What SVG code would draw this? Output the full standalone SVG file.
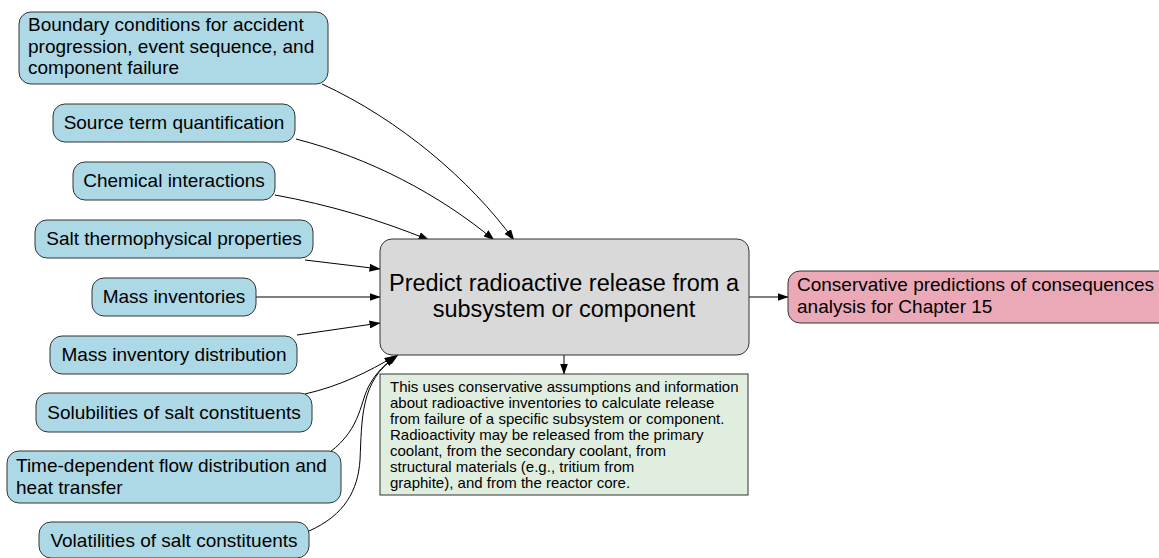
<svg xmlns="http://www.w3.org/2000/svg" width="1159" height="558" viewBox="0 0 1159 558">
  <style>
    .node { stroke: #333333; stroke-width: 1; }
    .input { fill: #add8e6; }
    .core { fill: #d9d9d9; }
    .note { fill: #e0eee0; }
    .output { fill: #eba8b6; }
    text { font-family: "Liberation Sans", Arial, Helvetica, sans-serif; fill: #000000; }
    .lbl { font-size: 19px; }
    .big { font-size: 23.5px; }
    .small { font-size: 15px; }
    .edge { fill: none; stroke: #000000; stroke-width: 1; marker-end: url(#arrow); }
  </style>
  <defs>
    <marker id="arrow" markerWidth="11" markerHeight="8" refX="10.5" refY="4" orient="auto" markerUnits="userSpaceOnUse">
      <path d="M0,0 L11,4 L0,8 Z" fill="#000000"/>
    </marker>
  </defs>

  <rect width="1159" height="558" fill="#ffffff"/>

  <!-- connectors -->
  <g id="connectors">
    <path class="edge" d="M322,84 C400,120 470,180 514,240"/>
    <path class="edge" d="M296,139 C370,158 440,195 494,240"/>
    <path class="edge" d="M275,195 C330,205 380,220 429,240"/>
    <path class="edge" d="M305,260 L380,269"/>
    <path class="edge" d="M256,297 L380,297"/>
    <path class="edge" d="M297,335 L380,323"/>
    <path class="edge" d="M305,394 C340,386 368,372 395,356"/>
    <path class="edge" d="M330,452 C362,428 360,400 370,384 C376,373 385,364 398,355"/>
    <path class="edge" d="M309,531 C345,515 358,490 360,460 C362,420 360,380 396,357"/>
    <path class="edge" d="M564,355 L564,374"/>
    <path class="edge" d="M749,297 L788,297"/>
  </g>

  <!-- input nodes -->
  <g id="n-boundary">
    <rect class="node input" x="19" y="12" width="309" height="72" rx="12"/>
    <text class="lbl" x="28" y="31">Boundary conditions for accident</text>
    <text class="lbl" x="28" y="53">progression, event sequence, and</text>
    <text class="lbl" x="28" y="74">component failure</text>
  </g>
  <g id="n-source">
    <rect class="node input" x="53" y="104" width="242" height="38" rx="12"/>
    <text class="lbl" x="174" y="129" text-anchor="middle">Source term quantification</text>
  </g>
  <g id="n-chemical">
    <rect class="node input" x="73" y="162" width="202" height="38" rx="12"/>
    <text class="lbl" x="174" y="187" text-anchor="middle">Chemical interactions</text>
  </g>
  <g id="n-thermo">
    <rect class="node input" x="35" y="220" width="278" height="38" rx="12"/>
    <text class="lbl" x="174" y="245" text-anchor="middle">Salt thermophysical properties</text>
  </g>
  <g id="n-mass">
    <rect class="node input" x="92" y="278" width="164" height="38" rx="12"/>
    <text class="lbl" x="174" y="303" text-anchor="middle">Mass inventories</text>
  </g>
  <g id="n-massdist">
    <rect class="node input" x="50" y="336" width="247" height="38" rx="12"/>
    <text class="lbl" x="174" y="361" text-anchor="middle">Mass inventory distribution</text>
  </g>
  <g id="n-solubility">
    <rect class="node input" x="36" y="393" width="276" height="39" rx="12"/>
    <text class="lbl" x="174" y="419" text-anchor="middle">Solubilities of salt constituents</text>
  </g>
  <g id="n-flow">
    <rect class="node input" x="7" y="451" width="334" height="52" rx="12"/>
    <text class="lbl" x="16" y="472">Time-dependent flow distribution and</text>
    <text class="lbl" x="16" y="494">heat transfer</text>
  </g>
  <g id="n-volatility">
    <rect class="node input" x="39" y="522" width="270" height="36" rx="12"/>
    <text class="lbl" x="174" y="547" text-anchor="middle">Volatilities of salt constituents</text>
  </g>

  <!-- central process -->
  <g id="n-predict">
    <rect class="node core" x="380" y="239" width="369" height="116" rx="12"/>
    <text class="big" x="564" y="291" text-anchor="middle">Predict radioactive release from a</text>
    <text class="big" x="564" y="317" text-anchor="middle">subsystem or component</text>
  </g>

  <!-- explanatory note -->
  <g id="n-note">
    <rect class="node note" x="380" y="374" width="368" height="121"/>
    <text class="small" x="390" y="392">This uses conservative assumptions and information</text>
    <text class="small" x="390" y="408">about radioactive inventories to calculate release</text>
    <text class="small" x="390" y="424">from failure of a specific subsystem or component.</text>
    <text class="small" x="390" y="440">Radioactivity may be released from the primary</text>
    <text class="small" x="390" y="456">coolant, from the secondary coolant, from</text>
    <text class="small" x="390" y="472">structural materials (e.g., tritium from</text>
    <text class="small" x="390" y="488">graphite), and from the reactor core.</text>
  </g>

  <!-- output -->
  <g id="n-output">
    <rect class="node output" x="788" y="271" width="390" height="52" rx="12"/>
    <text class="lbl" x="797" y="291">Conservative predictions of consequences</text>
    <text class="lbl" x="797" y="313">analysis for Chapter 15</text>
  </g>
</svg>
